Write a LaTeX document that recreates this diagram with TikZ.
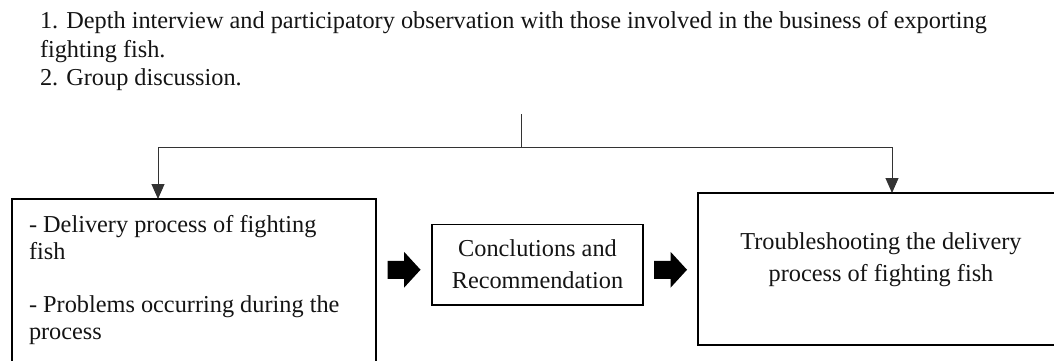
\documentclass[tikz,border=0pt]{standalone}
\usepackage{fontspec}
\setmainfont{Liberation Serif}
\usetikzlibrary{arrows.meta,calc}
\begin{document}
\begin{tikzpicture}[x=1pt,y=-1pt,
  every node/.style={inner sep=0pt, outer sep=0pt},
  txt/.style={font=\fontsize{24.3}{28.5}\selectfont, text=black!92},
  heavybox/.style={draw=black, line width=2pt, rectangle},
  lightbox/.style={draw=black, line width=1.6pt, rectangle},
  conn/.style={draw=black!80, line width=1pt},
  tip/.style={-{Triangle[width=13pt,length=15pt]}},
  blockarrow/.pic={
    \fill[black] (-16.5,-9) -- (0,-9) -- (0,-18) -- (16.5,0) -- (0,18) -- (0,9) -- (-16.5,9) -- cycle;
  }
]
\useasboundingbox (0,0) rectangle (1054,361);
\begin{scope}
\clip (0,0) rectangle (1054,361);

% methods used to collect the data
\node[txt, anchor=base west] (methods) at (40,28.5) {\parbox[t]{1010pt}{\fontsize{24.3}{28.5}\selectfont
  1. Depth interview and participatory observation with those involved in the business of exporting\\
  fighting fish.\\
  2. Group discussion.}};

% the three stages
\node[heavybox, minimum width=364pt, minimum height=176pt] (lbox) at (194,287) {};
\node[lightbox, minimum width=211pt, minimum height=80.5pt] (cbox) at (537.5,264.75) {};
\node[heavybox, minimum width=366pt, minimum height=152pt] (rbox) at (881,269) {};

\node[txt, anchor=base west] (ltext) at (29,232) {\parbox[t]{345pt}{\fontsize{24.3}{27.5}\selectfont
  - Delivery process of fighting\\
  fish\par\vspace{25pt}
  - Problems occurring during the\\
  process}};

\node[txt, anchor=base] (ctext) at (537.5,256) {\parbox[t]{211pt}{\fontsize{24.3}{32}\selectfont\centering
  Conclutions and\\
  Recommendation}};

\node[txt, anchor=base] (rtext) at (881,249) {\parbox[t]{366pt}{\fontsize{24.3}{32}\selectfont\centering
  Troubleshooting the delivery\\
  process of fighting fish}};

% branching connector from the methods down to the two outer boxes
\coordinate (src) at (521,114);
\coordinate (bus) at (521,147);
\draw[conn] (src) -- (bus);
\draw[conn, tip] (bus) -| ($(lbox.north west)+(146,0)$);
\draw[conn, tip] (bus) -| ($(rbox.north west)+(194,0)$);

% block arrows between the stages
\pic at ([yshift=-5pt]$(lbox.east |- cbox.west)!0.5!(cbox.west)$) {blockarrow};
\pic at ([yshift=-5pt]$(cbox.east)!0.5!(rbox.west |- cbox.east)$) {blockarrow};
\end{scope}
\end{tikzpicture}
\end{document}
